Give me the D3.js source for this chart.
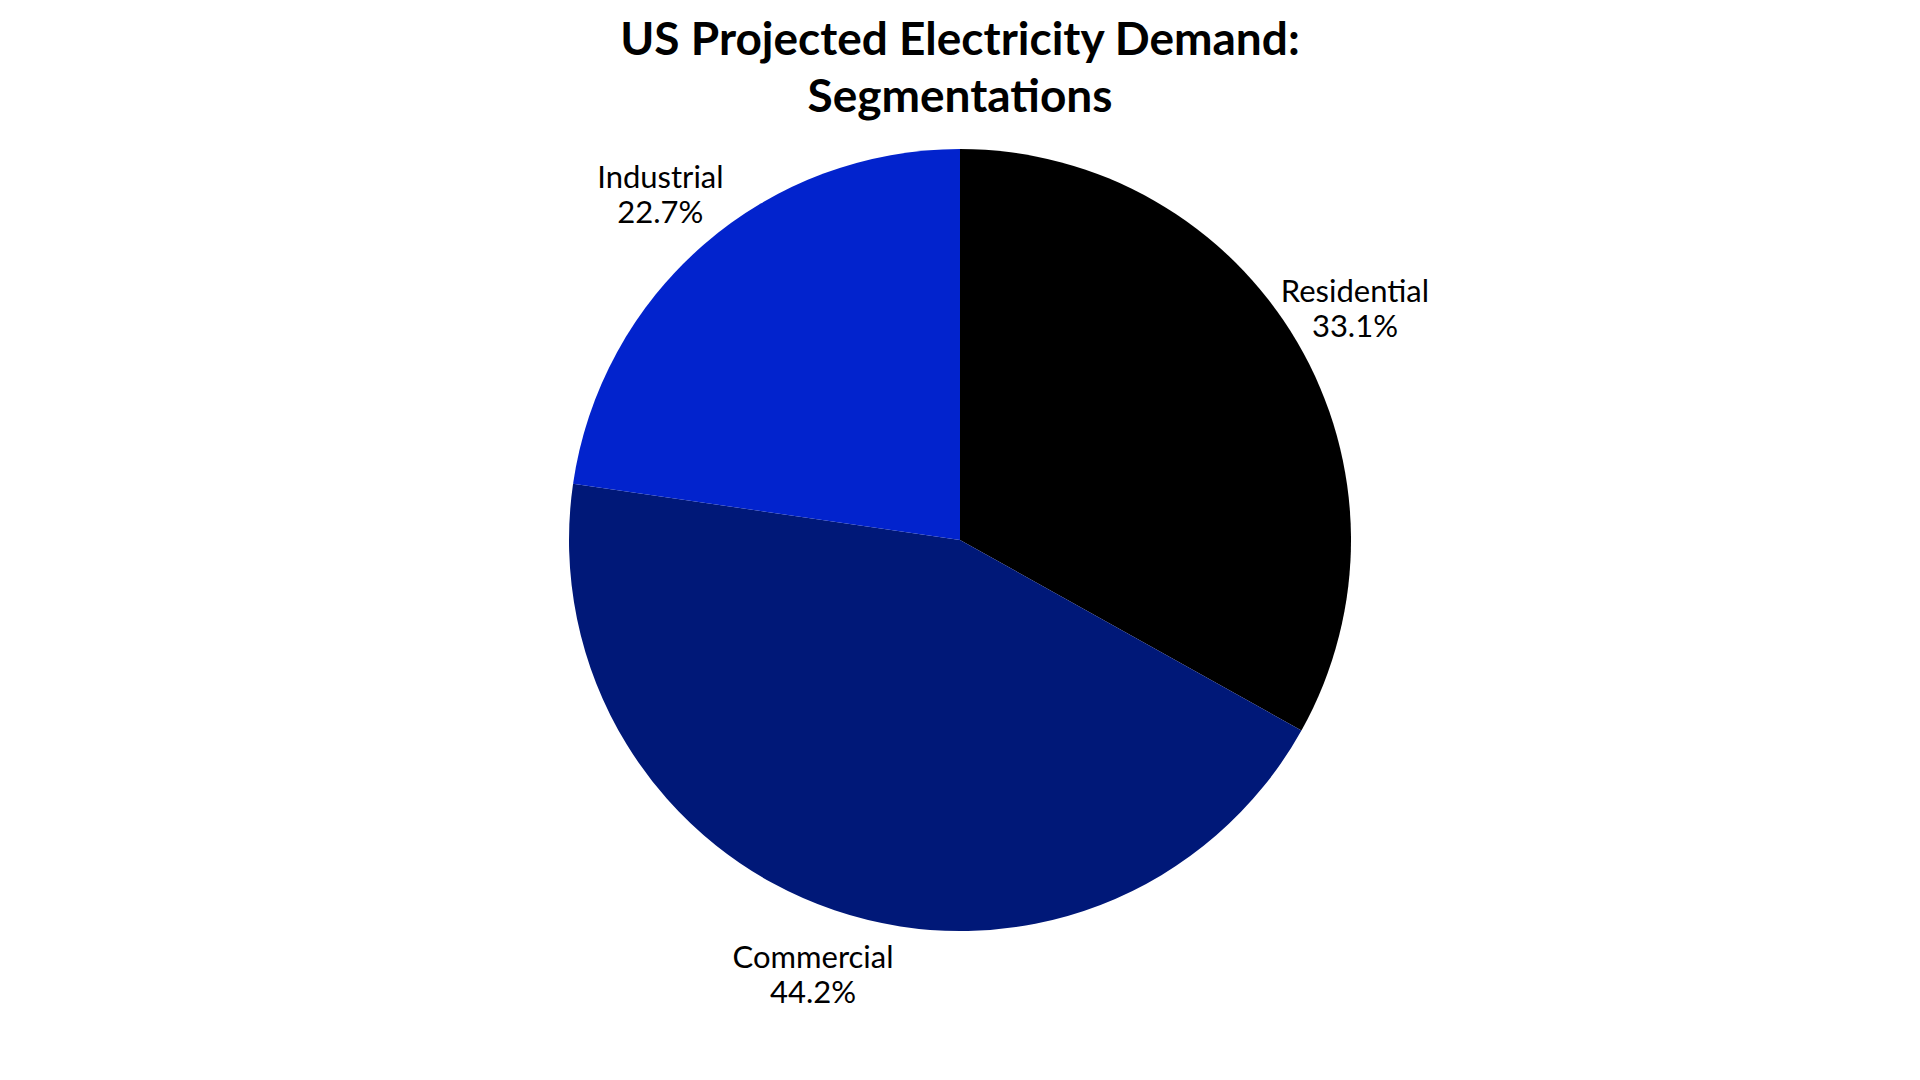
<!DOCTYPE html>
<html>
<head>
<meta charset="utf-8">
<script src="https://cdn.jsdelivr.net/npm/d3@7"></script>
<style>
  html, body { margin: 0; padding: 0; background: #fff; }
  svg { display: block; font-family: Lato, "Open Sans", sans-serif; }
</style>
</head>
<body>
<div id="chart"></div>
<script>
// chart data
const segments = ["Residential", "Commercial", "Industrial"];
const shares = [33.1, 44.2, 22.7];
const colors = ["#000000", "#001878", "#0223CD"];
const titleLines = ["US Projected Electricity Demand:", "Segmentations"];

const width = 1920, height = 1080;
const cx = 960, cy = 540, radius = 391;

const svg = d3.select("#chart")
    .append("svg")
    .attr("width", width)
    .attr("height", height);

const data = segments.map((s, i) => ({ name: s, value: shares[i], color: colors[i] }));

const pie = d3.pie()
    .value(d => d.value)
    .sort(null);

const arc = d3.arc()
    .innerRadius(0)
    .outerRadius(radius);

// labels sit on a ring just outside the pie
const labelArc = d3.arc()
    .innerRadius(radius + 67)
    .outerRadius(radius + 67);

const g = svg.append("g")
    .attr("transform", `translate(${cx},${cy})`);

const arcs = pie(data);

g.selectAll("path")
    .data(arcs)
    .enter()
    .append("path")
    .attr("d", arc)
    .attr("fill", d => d.data.color);

const labels = g.selectAll("text.label")
    .data(arcs)
    .enter()
    .append("text")
    .attr("class", "label")
    .attr("text-anchor", "middle")
    .attr("font-size", 31)
    .attr("fill", "#000")
    .attr("transform", d => {
        const c = labelArc.centroid(d);
        return `translate(${c[0]},${c[1]})`;
    });

labels.append("tspan")
    .attr("x", 0)
    .attr("y", -6)
    .text(d => d.data.name);

labels.append("tspan")
    .attr("x", 0)
    .attr("y", 29)
    .text(d => d.data.value.toFixed(1) + "%");

// title
svg.append("text")
    .attr("x", cx)
    .attr("text-anchor", "middle")
    .attr("font-size", 46)
    .attr("font-weight", "bold")
    .attr("fill", "#000")
    .selectAll("tspan")
    .data(titleLines)
    .enter()
    .append("tspan")
    .attr("x", cx)
    .attr("y", (d, i) => 55 + i * 57)
    .text(d => d);
</script>
</body>
</html>
